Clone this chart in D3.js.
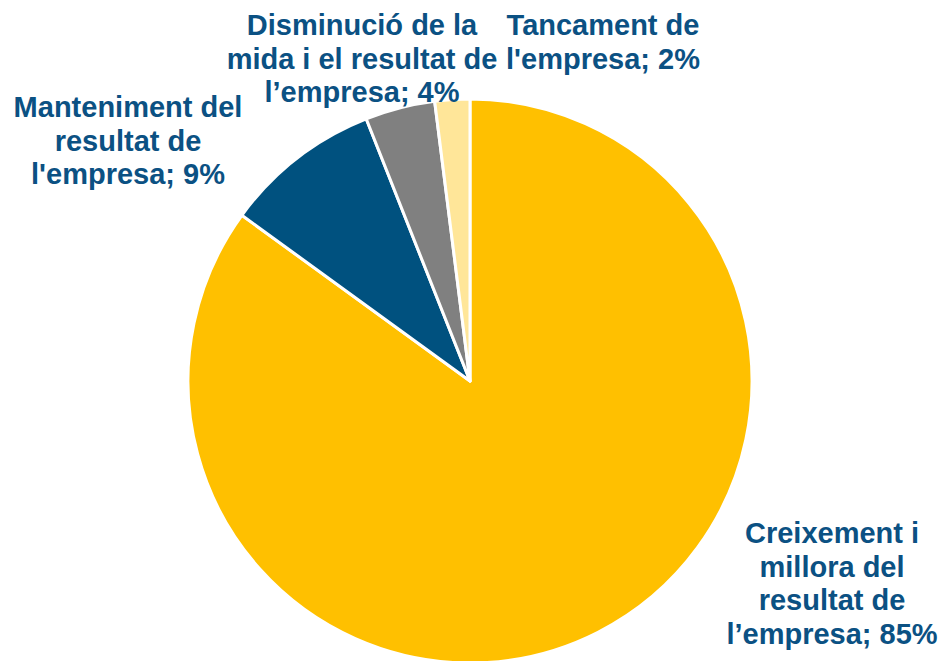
<!DOCTYPE html>
<html>
<head>
<meta charset="utf-8">
<script src="https://cdn.jsdelivr.net/npm/d3@7"></script>
<style>
  html, body { margin: 0; padding: 0; background: #ffffff; }
  svg { display: block; }
</style>
</head>
<body>
<svg id="chart" width="942" height="661"></svg>
<script>
// Outcome categories and their shares (%)
const categories = [
  "Creixement i millora del resultat de l’empresa",
  "Manteniment del resultat de l'empresa",
  "Disminució de la mida i el resultat de l’empresa",
  "Tancament de l'empresa"
];
const values = [85, 9, 4, 2];
const colors = ["#FFC000", "#00517F", "#808080", "#FFE699"];

// Label lines as they wrap on the chart
const labelLines = [
  ["Creixement i", "millora del", "resultat de", "l’empresa; 85%"],
  ["Manteniment del", "resultat de", "l'empresa; 9%"],
  ["Disminució de la", "mida i el resultat de", "l’empresa; 4%"],
  ["Tancament de", "l'empresa; 2%"]
];

const width = 942, height = 661;
const cx = 470, cy = 381, radius = 282;

const svg = d3.select("#chart");
const g = svg.append("g").attr("transform", `translate(${cx},${cy})`);

const data = categories.map((c, i) => ({ name: c, value: values[i], color: colors[i], lines: labelLines[i] }));

const pie = d3.pie().value(d => d.value).sort(null);
const arc = d3.arc().innerRadius(0).outerRadius(radius);
const arcs = pie(data);

g.selectAll("path.slice")
  .data(arcs)
  .join("path")
  .attr("class", "slice")
  .attr("d", arc)
  .attr("fill", d => d.data.color)
  .attr("stroke", "#ffffff")
  .attr("stroke-width", 3)
  .attr("stroke-linejoin", "round");

// Label block placement relative to the pie centre (first-line baseline, centred)
const fontSize = 29, lineH = 33.5;
const anchorPos = [
  [362, 162],
  [-342, -264],
  [-108, -346],
  [133, -346]
];

const labels = svg.append("g")
  .attr("font-family", "'Liberation Sans', Arial, Helvetica, sans-serif")
  .attr("font-weight", "bold")
  .attr("font-size", fontSize)
  .attr("fill", "#0B5183")
  .attr("text-anchor", "middle");

arcs.forEach((a, i) => {
  const [ax, ay] = anchorPos[i];
  const t = labels.append("text")
    .attr("transform", `translate(${cx + ax},${cy + ay})`);
  a.data.lines.forEach((ln, j) => {
    t.append("tspan").attr("x", 0).attr("y", j * lineH).text(ln);
  });
});
</script>
</body>
</html>
